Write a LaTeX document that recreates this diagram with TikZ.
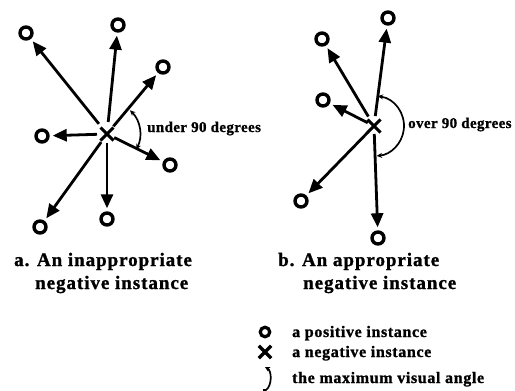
\documentclass[tikz,border=0pt]{standalone}
\usepackage{fontspec}
\setmainfont{Liberation Serif}
\newfontfamily\capf[LetterSpace=5,FakeBold=1.2]{Liberation Serif}
\newfontfamily\legf[LetterSpace=4,FakeBold=1.2]{Liberation Serif}
\newfontfamily\angf[LetterSpace=2.5,FakeBold=1]{Liberation Serif}
\usetikzlibrary{arrows.meta,shapes.misc}
\begin{document}
\begin{tikzpicture}[x=1pt,y=-1pt,
  posmark/.style={circle,draw,line width=3.4pt,minimum size=12pt,inner sep=0pt},
  negmark/.style={cross out,draw,line width=3pt,minimum size=10pt,inner sep=0pt},
  arr/.style={line width=2.8pt,-{Triangle[length=14pt,width=12pt]},shorten >=3pt},
  angarc/.style={line width=1.7pt,{Stealth[length=5.5pt,width=5pt]}-{Stealth[length=5.5pt,width=5pt]}},
  captext/.style={anchor=base west,inner sep=0pt,font=\capf\bfseries\fontsize{19}{22}\selectfont},
  legtext/.style={anchor=base west,inner sep=0pt,font=\legf\bfseries\fontsize{16}{19}\selectfont},
  angtext/.style={anchor=base west,inner sep=0pt,font=\angf\bfseries\fontsize{15}{18}\selectfont}]
\useasboundingbox (0,0) rectangle (515,391);
% ---------- panel a ----------
\node[negmark] (xa) at (107,134) {};
\node[posmark] (a1) at (26,33) {};
\node[posmark] (a2) at (118,25) {};
\node[posmark] (a3) at (163,67) {};
\node[posmark] (a4) at (42,136) {};
\node[posmark] (a5) at (170,165) {};
\node[posmark] (a6) at (40,227) {};
\node[posmark] (a7) at (107,219) {};
\draw[arr,shorten <=13pt] (xa.center) -- (a1);
\draw[arr,shorten <=12pt] (xa.center) -- (a2);
\draw[arr,shorten <=10pt] (xa.center) -- (a3);
\draw[arr,shorten <=10pt] (xa.center) -- (a4);
\draw[arr,shorten <=8pt] (xa.center) -- (a5);
\draw[arr,shorten <=10pt] (xa.center) -- (a6);
\draw[arr,shorten <=9pt] (xa.center) -- (a7);
\draw[angarc] ([shift={(-46:33)}]xa.center) arc[start angle=-46,end angle=28,radius=33];
\node[angtext] (la) at (147,132) {under 90 degrees};
% ---------- panel b ----------
\node[negmark] (xb) at (374,126) {};
\node[posmark] (b1) at (388,18) {};
\node[posmark] (b2) at (322,39) {};
\node[posmark] (b3) at (323,100) {};
\node[posmark] (b4) at (301,201) {};
\node[posmark] (b5) at (378,238) {};
\draw[arr,shorten <=10pt] (xb.center) -- (b1);
\draw[arr,shorten <=11pt] (xb.center) -- (b2);
\draw[arr,shorten <=7pt] (xb.center) -- (b3);
\draw[arr,shorten <=8pt] (xb.center) -- (b4);
\draw[arr,shorten <=8pt] (xb.center) -- (b5);
\draw[angarc] ([shift={(-83:30)}]xb.center) arc[start angle=-83,end angle=85,radius=30];
\node[angtext] (lb) at (408,128) {over 90 degrees};
% ---------- captions ----------
\node[captext] (ca1) at (14,266) {a. An inappropriate};
\node[captext] (ca2) at (35,289) {negative instance};
\node[captext] (cb1) at (278,266) {b. An appropriate};
\node[captext] (cb2) at (303,289) {negative instance};
% ---------- legend ----------
\node[posmark,minimum size=9.5pt,line width=3.2pt] (lp) at (265,332) {};
\node[negmark,minimum size=9pt,line width=3.4pt] (ln) at (265,352) {};
\draw[line width=1.7pt,{Stealth[length=5pt,width=5pt]}-] (265,367) .. controls (272,371) and (272,386) .. (266,390) -- (263,390);
\node[legtext] (t1) at (292,337) {a positive instance};
\node[legtext] (t2) at (292,357) {a negative instance};
\node[legtext] (t3) at (292,383) {the maximum visual angle};
\end{tikzpicture}
\end{document}
